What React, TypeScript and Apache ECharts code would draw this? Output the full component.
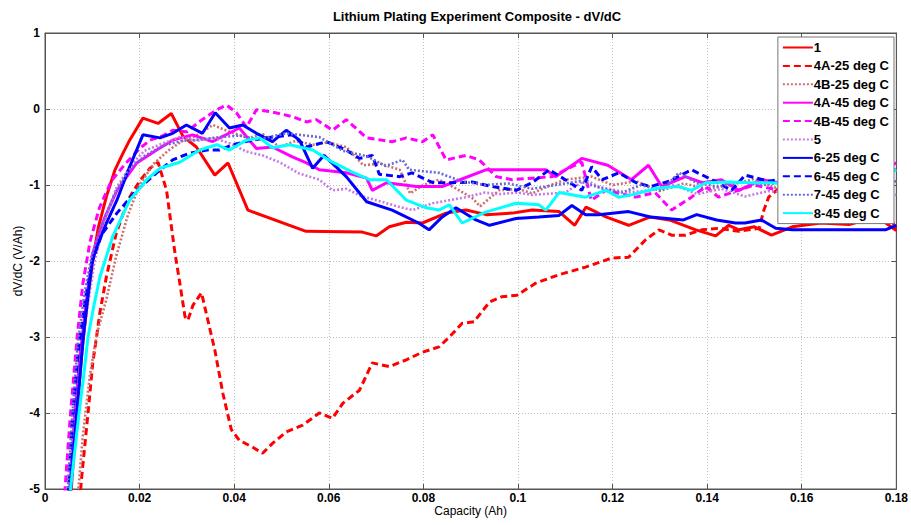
import React, { useEffect, useRef } from "react";
import * as echarts from "echarts";

// ---------- data (Capacity Ah, dV/dC V/Ah) ----------
const s1X = [0.0052, 0.0065, 0.0078, 0.009, 0.0102, 0.0113, 0.013, 0.0148, 0.0165, 0.0179, 0.0207, 0.0239, 0.0267, 0.0292, 0.032, 0.0359, 0.0387, 0.0429, 0.0552, 0.0671, 0.07, 0.0728, 0.0764, 0.0798, 0.0848, 0.089, 0.0933, 0.0988, 0.103, 0.1087, 0.112, 0.1144, 0.1186, 0.1234, 0.128, 0.132, 0.1376, 0.1418, 0.1446, 0.1467, 0.15, 0.1536, 0.158, 0.164, 0.17, 0.176, 0.18];
const s1Y = [-5.3, -4.2, -3.2, -2.5, -1.95, -1.55, -1.15, -0.8, -0.58, -0.41, -0.12, -0.19, -0.06, -0.36, -0.5, -0.87, -0.71, -1.33, -1.61, -1.62, -1.67, -1.55, -1.49, -1.5, -1.37, -1.33, -1.39, -1.37, -1.33, -1.35, -1.53, -1.29, -1.42, -1.53, -1.42, -1.46, -1.59, -1.67, -1.53, -1.59, -1.55, -1.66, -1.55, -1.5, -1.52, -1.42, -1.6];

const s4A25X = [0.0072, 0.0077, 0.0091, 0.0101, 0.0109, 0.0116, 0.013, 0.015, 0.0175, 0.02, 0.0222, 0.0239, 0.0257, 0.0274, 0.0285, 0.0296, 0.0302, 0.0313, 0.0331, 0.0341, 0.0359, 0.0376, 0.0394, 0.0411, 0.0439, 0.046, 0.0481, 0.051, 0.0545, 0.058, 0.0608, 0.063, 0.0665, 0.0692, 0.0728, 0.0764, 0.0798, 0.0833, 0.0855, 0.0882, 0.0907, 0.094, 0.0966, 0.0998, 0.1038, 0.1087, 0.1143, 0.1199, 0.1234, 0.127, 0.1298, 0.1325, 0.1354, 0.1389, 0.1424, 0.1467, 0.151, 0.152, 0.153, 0.156, 0.165, 0.172, 0.178, 0.18];
const s4A25Y = [-5.3, -4.88, -4.0, -3.34, -3.0, -2.68, -2.2, -1.65, -1.2, -0.95, -0.78, -0.7, -1.07, -1.86, -2.29, -2.73, -2.78, -2.58, -2.42, -2.69, -3.17, -3.74, -4.22, -4.36, -4.45, -4.53, -4.4, -4.25, -4.16, -4.0, -4.07, -3.87, -3.7, -3.34, -3.39, -3.3, -3.2, -3.13, -3.0, -2.82, -2.8, -2.54, -2.47, -2.45, -2.29, -2.18, -2.08, -1.96, -1.95, -1.72, -1.59, -1.66, -1.66, -1.59, -1.57, -1.61, -1.57, -1.33, -1.16, -1.0, -1.15, -1.45, -1.3, -1.6];

const s4B25X = [0.0068, 0.008, 0.0095, 0.011, 0.013, 0.015, 0.0175, 0.02, 0.023, 0.026, 0.029, 0.032, 0.0355, 0.039, 0.043, 0.046, 0.0496, 0.053, 0.0566, 0.06, 0.0637, 0.0673, 0.071, 0.075, 0.0772, 0.08, 0.0833, 0.087, 0.0903, 0.092, 0.096, 0.1, 0.103, 0.107, 0.11, 0.1156, 0.12, 0.125, 0.13, 0.135, 0.14, 0.145, 0.15, 0.155, 0.16, 0.165, 0.17, 0.175, 0.18];
const s4B25Y = [-5.2, -4.3, -3.5, -2.95, -2.5, -1.95, -1.4, -1.0, -0.72, -0.55, -0.42, -0.35, -0.21, -0.3, -0.38, -0.33, -0.5, -0.42, -0.47, -0.44, -0.5, -0.74, -0.72, -0.8, -1.11, -1.0, -0.93, -1.05, -1.17, -1.28, -1.07, -1.05, -1.11, -1.0, -0.93, -0.89, -1.0, -0.95, -1.08, -0.98, -1.05, -1.0, -0.92, -1.05, -0.98, -1.02, -0.95, -1.0, -0.95];

const s4A45X = [0.005, 0.0062, 0.0075, 0.0088, 0.0101, 0.0125, 0.0152, 0.0194, 0.0236, 0.027, 0.0312, 0.0354, 0.0411, 0.0447, 0.0481, 0.0523, 0.0553, 0.058, 0.0637, 0.068, 0.0692, 0.0722, 0.0785, 0.084, 0.0932, 0.1059, 0.108, 0.1135, 0.119, 0.124, 0.1276, 0.1304, 0.1354, 0.139, 0.143, 0.1467, 0.1515, 0.156, 0.162, 0.168, 0.174, 0.18];
const s4A45Y = [-5.2, -4.1, -3.2, -2.5, -1.9, -1.45, -1.07, -0.71, -0.54, -0.41, -0.34, -0.43, -0.25, -0.52, -0.5, -0.63, -0.71, -0.8, -0.84, -0.91, -1.07, -0.97, -1.02, -1.02, -0.8, -0.8, -0.89, -0.65, -0.74, -0.93, -0.74, -1.02, -0.89, -0.97, -0.93, -1.07, -0.93, -0.98, -0.9, -0.95, -0.85, -0.8];

const s4B45X = [0.004, 0.0054, 0.0068, 0.008, 0.0095, 0.0115, 0.014, 0.017, 0.02, 0.0222, 0.025, 0.027, 0.03, 0.033, 0.0363, 0.0384, 0.0405, 0.0426, 0.0447, 0.0481, 0.0523, 0.0553, 0.0574, 0.0608, 0.0637, 0.068, 0.0734, 0.0764, 0.0798, 0.082, 0.0848, 0.089, 0.0918, 0.0954, 0.0988, 0.103, 0.1072, 0.1114, 0.1135, 0.1155, 0.1186, 0.1249, 0.129, 0.1325, 0.1367, 0.1397, 0.1424, 0.1452, 0.15, 0.156, 0.162, 0.168, 0.174, 0.18];
const s4B45Y = [-5.2, -4.0, -3.0, -2.3, -1.75, -1.3, -0.95, -0.72, -0.52, -0.41, -0.35, -0.28, -0.3, -0.15, -0.01, 0.05, -0.05, -0.24, -0.01, -0.04, -0.1, -0.17, -0.14, -0.28, -0.14, -0.38, -0.43, -0.38, -0.43, -0.34, -0.67, -0.61, -0.67, -0.89, -0.93, -0.91, -0.89, -0.76, -0.7, -1.2, -1.07, -1.16, -1.1, -1.33, -1.16, -1.02, -1.16, -1.1, -1.0, -1.08, -0.95, -1.05, -0.9, -0.71];

const s5X = [0.005, 0.0062, 0.0075, 0.009, 0.0105, 0.0125, 0.015, 0.018, 0.021, 0.025, 0.0285, 0.032, 0.0355, 0.039, 0.0426, 0.046, 0.0496, 0.0538, 0.058, 0.0608, 0.0637, 0.067, 0.07, 0.075, 0.0777, 0.082, 0.089, 0.093, 0.096, 0.1, 0.103, 0.11, 0.1143, 0.117, 0.123, 0.128, 0.133, 0.138, 0.143, 0.148, 0.153, 0.16, 0.166, 0.172, 0.18];
const s5Y = [-5.2, -4.2, -3.3, -2.6, -2.0, -1.5, -1.05, -0.75, -0.55, -0.45, -0.37, -0.42, -0.38, -0.45, -0.56, -0.61, -0.7, -0.85, -0.93, -1.07, -1.05, -1.15, -1.2, -1.29, -1.33, -1.24, -1.16, -1.1, -1.12, -1.1, -1.13, -1.1, -0.93, -1.02, -1.1, -1.07, -1.0, -1.12, -1.05, -1.15, -1.08, -1.12, -1.05, -1.1, -1.13];

const s625X = [0.0045, 0.0054, 0.0067, 0.0081, 0.0092, 0.01, 0.011, 0.013, 0.0152, 0.0179, 0.0207, 0.0243, 0.027, 0.0299, 0.0333, 0.036, 0.039, 0.0418, 0.0447, 0.0481, 0.051, 0.0538, 0.0566, 0.059, 0.0637, 0.068, 0.0734, 0.079, 0.0812, 0.084, 0.0869, 0.0911, 0.094, 0.0996, 0.1044, 0.1087, 0.1114, 0.1143, 0.117, 0.1234, 0.128, 0.135, 0.1378, 0.142, 0.146, 0.148, 0.1515, 0.1545, 0.158, 0.162, 0.17, 0.1777, 0.18];
const s625Y = [-5.6, -5.0, -4.0, -3.0, -2.4, -2.0, -1.81, -1.5, -1.2, -0.76, -0.34, -0.38, -0.32, -0.21, -0.32, -0.05, -0.25, -0.21, -0.32, -0.43, -0.28, -0.41, -0.78, -0.61, -0.89, -1.22, -1.33, -1.5, -1.59, -1.42, -1.3, -1.46, -1.53, -1.44, -1.42, -1.4, -1.27, -1.39, -1.39, -1.35, -1.42, -1.46, -1.39, -1.46, -1.5, -1.5, -1.46, -1.57, -1.59, -1.59, -1.59, -1.59, -1.53];

const s645X = [0.0048, 0.0058, 0.007, 0.0085, 0.01, 0.012, 0.0152, 0.0194, 0.0236, 0.027, 0.0306, 0.0342, 0.0369, 0.0397, 0.043, 0.0468, 0.0523, 0.0553, 0.0595, 0.0637, 0.0665, 0.0692, 0.0707, 0.075, 0.0776, 0.082, 0.086, 0.0903, 0.0945, 0.0996, 0.103, 0.1066, 0.11, 0.1135, 0.1156, 0.1178, 0.1213, 0.125, 0.128, 0.132, 0.1367, 0.141, 0.1452, 0.148, 0.153, 0.158, 0.164, 0.17, 0.176, 0.18];
const s645Y = [-5.2, -4.1, -3.2, -2.5, -2.0, -1.65, -1.37, -1.07, -0.84, -0.67, -0.58, -0.54, -0.54, -0.47, -0.42, -0.38, -0.34, -0.5, -0.43, -0.54, -0.65, -0.61, -0.86, -0.89, -0.84, -0.97, -0.97, -0.96, -1.02, -1.07, -0.97, -0.8, -0.93, -1.07, -0.76, -0.93, -0.84, -0.97, -1.02, -0.95, -0.8, -0.93, -1.07, -0.87, -0.95, -0.9, -1.0, -0.92, -0.98, -0.93];

const s745X = [0.0046, 0.0057, 0.0069, 0.0083, 0.0098, 0.0118, 0.0145, 0.0175, 0.021, 0.025, 0.029, 0.033, 0.0369, 0.041, 0.045, 0.051, 0.058, 0.063, 0.068, 0.072, 0.0756, 0.077, 0.0833, 0.088, 0.093, 0.098, 0.103, 0.108, 0.113, 0.118, 0.122, 0.126, 0.1304, 0.134, 0.138, 0.1424, 0.147, 0.152, 0.158, 0.164, 0.17, 0.176, 0.18];
const s745Y = [-5.2, -4.1, -3.1, -2.45, -1.95, -1.55, -1.15, -0.82, -0.62, -0.48, -0.42, -0.4, -0.37, -0.35, -0.4, -0.32, -0.37, -0.55, -0.62, -0.75, -0.67, -0.8, -0.84, -0.95, -1.0, -0.98, -1.05, -1.0, -0.95, -1.05, -1.1, -1.0, -1.07, -0.84, -0.98, -1.02, -0.96, -1.0, -0.94, -1.02, -0.97, -1.0, -0.95];

const s845X = [0.0047, 0.0054, 0.0063, 0.0072, 0.0082, 0.0091, 0.0103, 0.0116, 0.0143, 0.0179, 0.0215, 0.0243, 0.0285, 0.0327, 0.0363, 0.039, 0.0426, 0.0454, 0.0481, 0.0517, 0.0566, 0.0608, 0.065, 0.0686, 0.0722, 0.0764, 0.0806, 0.0833, 0.0855, 0.0882, 0.093, 0.0996, 0.1044, 0.1059, 0.1087, 0.1143, 0.1186, 0.1213, 0.124, 0.1297, 0.134, 0.1367, 0.1397, 0.1446, 0.1494, 0.1536, 0.16, 0.166, 0.172, 0.178, 0.18];
const s845Y = [-5.6, -5.0, -4.5, -4.0, -3.5, -3.0, -2.6, -2.21, -1.68, -1.2, -0.93, -0.78, -0.7, -0.54, -0.47, -0.54, -0.41, -0.38, -0.51, -0.47, -0.54, -0.7, -0.83, -0.93, -0.93, -1.2, -1.3, -1.33, -1.26, -1.5, -1.36, -1.24, -1.26, -1.33, -1.1, -1.16, -1.07, -1.16, -1.13, -1.04, -1.02, -1.07, -0.97, -0.96, -0.97, -0.97, -1.0, -0.95, -0.92, -0.85, -0.8];

const seriesNames = ["1", "4A-25 deg C", "4B-25 deg C", "4A-45 deg C", "4B-45 deg C", "5", "6-25 deg C", "6-45 deg C", "7-45 deg C", "8-45 deg C"];
const seriesXs = [s1X, s4A25X, s4B25X, s4A45X, s4B45X, s5X, s625X, s645X, s745X, s845X];
const seriesYs = [s1Y, s4A25Y, s4B25Y, s4A45Y, s4B45Y, s5Y, s625Y, s645Y, s745Y, s845Y];

const xTicks = [0, 0.02, 0.04, 0.06, 0.08, 0.1, 0.12, 0.14, 0.16, 0.18];
const yTicks = [-5, -4, -3, -2, -1, 0, 1];

// styles (not data)
const colors = ["#ff0000", "#ff0000", "#cc6f6f", "#ff00ff", "#ff00ff", "#c77ae6", "#0000ff", "#0000ff", "#6b6bd6", "#00ffff"];
const kinds = ["solid", "dashed", "dotted", "solid", "dashed", "dotted", "solid", "dashed", "dotted", "solid"];

const FONT = "'Liberation Sans', Arial, Helvetica, sans-serif";

export default function App() {
  const ref = useRef<HTMLDivElement>(null);
  useEffect(() => {
    if (!ref.current) return;
    const chart = echarts.init(ref.current, null, { renderer: "svg" });
    const fmt = (v: number) => String(Number(v.toFixed(2)));
    const series = seriesNames.map((name, i) => {
      const k = kinds[i];
      return {
        name,
        type: "line",
        data: seriesXs[i].map((x, j) => [x, seriesYs[i][j]]),
        showSymbol: false,
        symbol: "none",
        smooth: false,
        clip: true,
        lineStyle: {
          color: colors[i],
          width: k === "dotted" ? 2.6 : 3,
          type: k === "solid" ? "solid" : k === "dashed" ? [7, 4] : [2, 2],
        },
        itemStyle: { color: colors[i] },
        emphasis: { disabled: true },
      };
    });
    chart.setOption({
      animation: false,
      backgroundColor: "#ffffff",
      textStyle: { fontFamily: FONT },
      title: {
        text: "Lithium Plating Experiment Composite - dV/dC",
        left: 472,
        textAlign: "center",
        top: 5,
        textStyle: { fontFamily: FONT, fontSize: 13, fontWeight: "bold", color: "#000" },
      },
      legend: {
        data: seriesNames,
        orient: "vertical",
        right: 17,
        top: 37,
        backgroundColor: "#ffffff",
        borderColor: "#777",
        borderWidth: 1,
        borderRadius: 0,
        padding: [4, 5, 4, 4],
        itemWidth: 30,
        itemHeight: 14,
        itemGap: 5.4,
        align: "left",
        itemStyle: { opacity: 0 },
        textStyle: { fontFamily: FONT, fontSize: 13, fontWeight: "bold", color: "#000", padding: [0, 0, 0, -4] },
        selectedMode: false,
      },
      grid: {
        left: 45,
        right: 13,
        top: 33,
        bottom: 36,
        show: true,
        borderColor: "#555",
        borderWidth: 1,
        backgroundColor: "transparent",
      },
      xAxis: [
        {
          type: "value",
          min: xTicks[0],
          max: xTicks[xTicks.length - 1],
          interval: 0.02,
          name: "Capacity (Ah)",
          nameLocation: "middle",
          nameGap: 16,
          nameMoveOverlap: false,
          nameTextStyle: { fontFamily: FONT, fontSize: 12, color: "#000" },
          axisLine: { show: true, onZero: false, lineStyle: { color: "#555" } },
          axisTick: { show: true, inside: true, length: 5, lineStyle: { color: "#555" } },
          axisLabel: { fontFamily: FONT, fontSize: 12, fontWeight: "bold", color: "#000", margin: 3, formatter: fmt },
          splitLine: { show: true, lineStyle: { color: "#c0c0c0", type: [1, 2], width: 1 } },
        },
        {
          type: "value",
          position: "top",
          min: xTicks[0],
          max: xTicks[xTicks.length - 1],
          interval: 0.02,
          axisLine: { show: true, onZero: false, lineStyle: { color: "#555" } },
          axisTick: { show: true, inside: true, length: 5, lineStyle: { color: "#555" } },
          axisLabel: { show: false },
          splitLine: { show: false },
        },
      ],
      yAxis: [
        {
          type: "value",
          min: yTicks[0],
          max: yTicks[yTicks.length - 1],
          interval: 1,
          name: "dV/dC (V/Ah)",
          nameLocation: "middle",
          nameGap: 21,
          nameMoveOverlap: false,
          nameRotate: 90,
          nameTextStyle: { fontFamily: FONT, fontSize: 12, color: "#000" },
          axisLine: { show: true, onZero: false, lineStyle: { color: "#555" } },
          axisTick: { show: true, inside: true, length: 5, lineStyle: { color: "#555" } },
          axisLabel: { fontFamily: FONT, fontSize: 12, fontWeight: "bold", color: "#000", margin: 5 },
          splitLine: { show: true, lineStyle: { color: "#c0c0c0", type: [1, 2], width: 1 } },
        },
        {
          type: "value",
          position: "right",
          min: yTicks[0],
          max: yTicks[yTicks.length - 1],
          interval: 1,
          axisLine: { show: true, onZero: false, lineStyle: { color: "#555" } },
          axisTick: { show: true, inside: true, length: 5, lineStyle: { color: "#555" } },
          axisLabel: { show: false },
          splitLine: { show: false },
        },
      ],
      series,
    });
    return () => chart.dispose();
  }, []);
  return (
    <div
      ref={ref}
      style={{ position: "fixed", left: 0, top: 0, width: 911, height: 525, background: "#fff" }}
    />
  );
}
